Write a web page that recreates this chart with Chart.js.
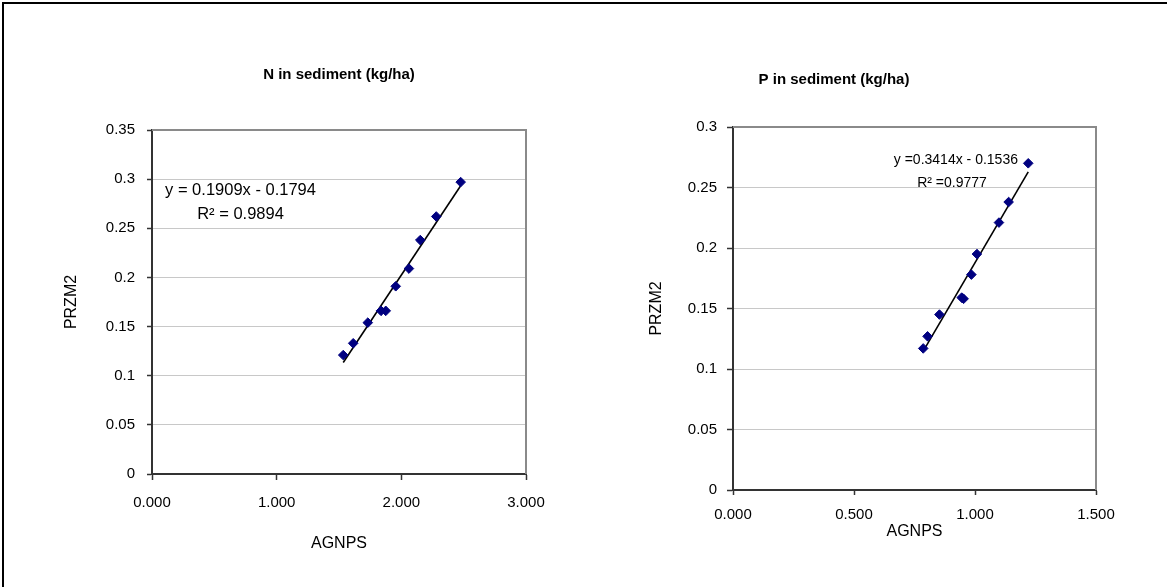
<!DOCTYPE html>
<html><head><meta charset="utf-8">
<script src="https://cdn.jsdelivr.net/npm/chart.js@4.4.0/dist/chart.umd.min.js"></script>
<style>
html,body{margin:0;padding:0;background:#fff;overflow:hidden;width:1167px;height:587px;}
#frame{position:absolute;left:2px;top:2px;width:1220px;height:640px;border:2px solid #000;box-sizing:border-box;}
#c1{position:absolute;left:0;top:0;}
#c2{position:absolute;left:572px;top:0;}
</style></head><body>
<div id="frame"></div>
<canvas id="c1" width="678" height="587"></canvas>
<canvas id="c2" width="595" height="587"></canvas>
<script>
// ---- N in sediment ----
const nTitle = 'N in sediment (kg/ha)';
const nX = [1.534, 1.614, 1.731, 1.837, 1.875, 1.955, 2.061, 2.152, 2.280, 2.476];
const nY = [0.121, 0.133, 0.154, 0.166, 0.166, 0.191, 0.209, 0.238, 0.262, 0.297];
const nSlope = 0.1909, nIntercept = -0.1794;
const nEq = ['y = 0.1909x - 0.1794', 'R\u00B2 = 0.9894'];
const nXTicks = ['0.000', '1.000', '2.000', '3.000'];
const nYTicks = ['0', '0.05', '0.1', '0.15', '0.2', '0.25', '0.3', '0.35'];

// ---- P in sediment ----
const pTitle = 'P in sediment (kg/ha)';
const pX = [0.786, 0.804, 0.853, 0.945, 0.953, 0.985, 1.008, 1.099, 1.139, 1.220];
const pY = [0.117, 0.127, 0.145, 0.159, 0.158, 0.178, 0.195, 0.221, 0.238, 0.270];
const pSlope = 0.3414, pIntercept = -0.1536;
const pEq = ['y =0.3414x - 0.1536', 'R\u00B2 =0.9777'];
const pXTicks = ['0.000', '0.500', '1.000', '1.500'];
const pYTicks = ['0', '0.05', '0.1', '0.15', '0.2', '0.25', '0.3'];

const xTitle = 'AGNPS', yTitle = 'PRZM2';
const FONT = "'Liberation Sans', Arial, sans-serif";

function makeChart(id, o) {
  const pts = o.x.map((v, i) => ({x: v, y: o.y[i]}));
  const xmin = Math.min(...o.x), xmax = Math.max(...o.x);
  const trend = [{x: xmin, y: o.slope * xmin + o.intercept}, {x: xmax, y: o.slope * xmax + o.intercept}];
  const framePlugin = {
    id: 'frameTR',
    beforeDatasetsDraw(c) {
      const a = c.chartArea, ctx = c.ctx;
      ctx.save();
      ctx.strokeStyle = '#8a8a8a';
      ctx.lineWidth = 2;
      ctx.beginPath();
      ctx.moveTo(a.left, a.top);
      ctx.lineTo(a.right, a.top);
      ctx.lineTo(a.right, a.bottom);
      ctx.stroke();
      ctx.restore();
    }
  };
  const eqPlugin = {
    id: 'eq',
    afterDatasetsDraw(c) {
      const ctx = c.ctx, xs = c.scales.x, ys = c.scales.y;
      ctx.save();
      ctx.fillStyle = '#000';
      ctx.font = o.eqSize + 'px ' + FONT;
      ctx.textAlign = 'center';
      ctx.textBaseline = 'middle';
      o.eq.forEach((t, i) => ctx.fillText(t, xs.getPixelForValue(o.eqPos[i][0]), ys.getPixelForValue(o.eqPos[i][1])));
      ctx.restore();
    }
  };
  const scales = {
    x: {
      type: 'linear', min: o.xmin, max: o.xmax,
      afterFit: s => { s.height = o.xH; },
      ticks: {stepSize: o.xStep, color: '#000', font: {family: FONT, size: 15}, padding: o.xPad, maxRotation: 0, autoSkip: false,
              callback: (v, i) => o.xTicks[i]},
      grid: {drawOnChartArea: false, drawTicks: true, tickLength: o.xTl, tickColor: '#333', tickWidth: 1.5},
      border: {color: '#333', width: 2},
      title: {display: true, text: xTitle, color: '#000', font: {family: FONT, size: 16}, padding: {top: 0, bottom: o.xtPad}}
    },
    y: {
      type: 'linear', position: 'left', min: 0, max: o.ymax,
      afterFit: s => { s.width = o.yW; },
      ticks: {stepSize: 0.05, color: '#000', font: {family: FONT, size: 15}, padding: o.yPad, autoSkip: false,
              callback: (v, i) => o.yTicks[i]},
      grid: {color: '#c8c8c8', lineWidth: 1, drawTicks: true, tickLength: o.yTl, tickColor: '#333', tickWidth: 1.5},
      border: {color: '#333', width: 2},
      title: {display: true, text: yTitle, color: '#000', font: {family: FONT, size: 16}, padding: {top: o.ytPad, bottom: 0}}
    }
  };
  if (o.spacerW) {
    scales.y2 = {
      type: 'linear', position: 'right', min: 0, max: o.ymax,
      afterFit: s => { s.width = o.spacerW; },
      ticks: {display: false}, grid: {display: false}, border: {display: false}
    };
  }
  return new Chart(document.getElementById(id), {
    type: 'scatter',
    data: {
      datasets: [
        {data: pts, pointStyle: 'rectRot', pointRadius: 4.8, backgroundColor: '#000080', borderColor: '#000080', borderWidth: 1, order: 1},
        {type: 'line', data: trend, borderColor: '#000', borderWidth: 1.6, pointRadius: 0, fill: false, order: 2}
      ]
    },
    options: {
      responsive: false,
      animation: false,
      events: [],
      layout: {padding: {left: 0, right: o.padRight, top: 0, bottom: 0}},
      plugins: {
        legend: {display: false},
        tooltip: {enabled: false},
        title: {display: true, text: o.title, color: '#000', font: {family: FONT, size: 15, weight: 'bold'}, padding: {top: o.tTop, bottom: o.tBottom}}
      },
      scales: scales
    },
    plugins: [framePlugin, eqPlugin]
  });
}

makeChart('c1', {
  title: nTitle, x: nX, y: nY, slope: nSlope, intercept: nIntercept,
  eq: nEq, eqSize: 16.5, eqPos: [[0.71, 0.289], [0.71, 0.2645]],
  xTicks: nXTicks, yTicks: nYTicks, xmin: 0, xmax: 3, xStep: 1, ymax: 0.35,
  padRight: 0, spacerW: 152, tTop: 66, tBottom: 46, xH: 113, yW: 152,
  xPad: 14, xTl: 6, yPad: 12, yTl: 5, xtPad: 34, ytPad: 62
});
makeChart('c2', {
  title: pTitle, x: pX, y: pY, slope: pSlope, intercept: pIntercept,
  eq: pEq, eqSize: 14, eqPos: [[0.921, 0.273], [0.905, 0.2535]],
  xTicks: pXTicks, yTicks: pYTicks, xmin: 0, xmax: 1.5, xStep: 0.5, ymax: 0.3,
  padRight: 71, tTop: 71, tBottom: 38, xH: 97, yW: 161,
  xPad: 11, xTl: 5, yPad: 10, yTl: 6, xtPad: 46, ytPad: 75
});
</script>
</body></html>
